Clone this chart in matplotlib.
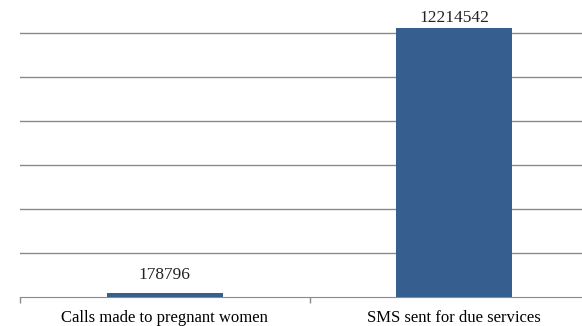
import matplotlib.pyplot as plt
import numpy as np

categories = ['Calls made to pregnant women', 'SMS sent for due services']
values = [178796, 12214542]

plt.rcParams['font.family'] = ['Liberation Serif', 'DejaVu Serif']

fig = plt.figure(figsize=(5.82, 3.26), dpi=100)
ax = fig.add_axes([20 / 582, 29 / 326, 579 / 582, 297 / 326])

x = np.arange(len(categories))
bars = ax.bar(x, values, width=0.4, color='#365e8f', zorder=3)

# data labels above bars (small bar label sits a bit higher in the original)
offsets = [7, 2]
for b, v, off in zip(bars, values, offsets):
    ax.annotate(str(v), (b.get_x() + b.get_width() / 2, v), xytext=(0, off),
                textcoords='offset points', ha='center', va='bottom',
                fontsize=12.5, color='#222222')

ax.set_xlim(-0.5, 1.5)
ax.set_ylim(0, 13.5e6)
ax.set_yticks(np.arange(2e6, 13e6, 2e6))
ax.yaxis.grid(True, color='#8a8a8a', linewidth=1.0, zorder=0)
ax.tick_params(axis='y', length=0, labelleft=False)

ax.set_xticks(x)
ax.set_xticklabels(categories, fontsize=12)
ax.tick_params(axis='x', which='major', length=0, pad=9)
ax.set_xticks([-0.5, 0.5, 1.5], minor=True)
ax.tick_params(axis='x', which='minor', length=4, color='#8a8a8a', width=1)

for s in ['top', 'right', 'left']:
    ax.spines[s].set_visible(False)
ax.spines['bottom'].set_color('#8a8a8a')

fig.savefig('out.png', dpi=100)
